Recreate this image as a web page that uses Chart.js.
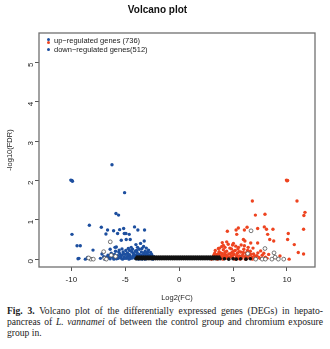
<!DOCTYPE html>
<html>
<head>
<meta charset="utf-8">
<script src="https://cdn.jsdelivr.net/npm/chart.js@4"></script>
<style>
  html, body { margin: 0; padding: 0; background: #fff; }
  #wrap { position: relative; width: 330px; height: 349px; overflow: hidden; }
  #plot { position: absolute; left: 0; top: 0; width: 330px; height: 305px; }
  #legend { position: absolute; left: 46px; top: 37px; font: 7.5px "Liberation Sans", Arial, sans-serif; color: #222; line-height: 8.5px; }
  #legend .row { position: relative; padding-left: 8px; white-space: nowrap; }
  #legend .dot { position: absolute; left: 1px; width: 3.4px; height: 3.4px; border-radius: 50%; }
  #caption { position: absolute; left: 7px; top: 305px; width: 316px; font: 9.6px "Liberation Serif", "DejaVu Serif", serif; line-height: 11px; color: #222; text-align: justify; }
  #caption b { font-weight: bold; }
</style>
</head>
<body>
<div id="wrap">
  <div id="plot"><canvas id="volcanoChart"></canvas></div>
  <div id="legend">
    <div class="row"><span class="dot" style="top:0.5px;background:#1d4f9f"></span><span class="dot" style="top:3.5px;background:#ee4420"></span>up−regulated genes (736)</div>
    <div class="row"><span class="dot" style="top:2.5px;background:#1d4f9f"></span>down−regulated genes(512)</div>
  </div>
  <div id="caption"><b>Fig. 3.</b> Volcano plot of the differentially expressed genes (DEGs) in hepato-pancreas of <i>L. vannamei</i> of between the control group and chromium exposure group in.</div>
</div>
<script>
// tick labels
const xTicks = [-10, -5, 0, 5, 10];
const yTicks = [0, 1, 2, 3, 4, 5];

// down-regulated genes (log2FC, -log10 FDR)
const downGenes = [
  [-9.95, 2.0], [-10.05, 2.01], [-9.9, 1.98], [-6.23, 2.40], [-5.06, 1.69],
  [-5.86, 1.16], [-5.62, 1.12], [-8.33, 0.86], [-9.94, 0.63], [-7.22, 0.81],
  [-6.64, 0.74], [-6.79, 0.64], [-6.08, 0.72], [-5.71, 0.65], [-5.52, 0.75],
  [-5.15, 0.78], [-5.09, 0.65], [-4.94, 0.65], [-4.63, 0.63], [-4.14, 0.82],
  [-3.83, 0.74], [-3.21, 0.74], [-5.37, 0.48], [-4.91, 0.50], [-4.54, 0.50],
  [-4.01, 0.37], [-3.58, 0.40], [-3.24, 0.46], [-9.47, 0.34], [-9.17, 0.34],
  [-7.99, 0.23], [-7.16, 0.13], [-9.38, 0.01], [-9.3, 0.02], [-8.70, 0.0],
  [-8.49, 0.04], [-5.83, 0.31], [-5.56, 0.23], [-4.72, 0.27], [-4.32, 0.25],
  [-3.86, 0.30], [-3.45, 0.27], [-2.84, 0.23],
  [-6.8, 0.05], [-6.6, 0.1], [-6.5, 0.02], [-6.3, 0.15], [-6.1, 0.04],
  [-6.0, 0.12], [-5.9, 0.2], [-5.8, 0.01], [-5.7, 0.09], [-5.5, 0.14],
  [-5.4, 0.03], [-5.3, 0.1], [-5.2, 0.18], [-5.1, 0.05], [-5.0, 0.12],
  [-4.9, 0.02], [-4.8, 0.16], [-4.7, 0.07], [-4.6, 0.11], [-4.5, 0.02],
  [-4.4, 0.19], [-4.3, 0.08], [-4.2, 0.13], [-4.1, 0.03], [-4.0, 0.1],
  [-3.9, 0.17], [-3.8, 0.05], [-3.7, 0.12], [-3.6, 0.02], [-3.5, 0.18],
  [-3.4, 0.08], [-3.3, 0.13], [-3.2, 0.04], [-3.1, 0.1], [-3.0, 0.15],
  [-2.9, 0.06], [-2.8, 0.1], [-2.7, 0.03], [-2.6, 0.08], [-6.4, 0.25],
  [-5.95, 0.3], [-5.3, 0.26], [-4.95, 0.22], [-4.45, 0.3], [-3.95, 0.22],
  [-3.3, 0.32], [-3.05, 0.28], [-2.65, 0.17], [-2.5, 0.05], [-7.3, 0.02],
  [-7.0, 0.06],
  [-6.9, 0.0], [-6.7, 0.03], [-6.55, 0.07], [-6.4, 0.01], [-6.2, 0.06],
  [-6.05, 0.0], [-5.85, 0.05], [-5.65, 0.02], [-5.45, 0.07], [-5.25, 0.0],
  [-5.15, 0.14], [-5.05, 0.02], [-4.85, 0.06], [-4.75, 0.12], [-4.65, 0.0],
  [-4.55, 0.06], [-4.35, 0.03], [-4.25, 0.15], [-4.15, 0.08], [-3.95, 0.01],
  [-3.85, 0.09], [-3.75, 0.0], [-3.65, 0.07], [-3.55, 0.1], [-3.45, 0.0],
  [-3.35, 0.05], [-3.25, 0.16], [-3.15, 0.0], [-3.05, 0.06], [-2.95, 0.12],
  [-2.85, 0.02], [-2.75, 0.07], [-2.55, 0.12], [-2.45, 0.0], [-2.35, 0.06],
  [-2.2, 0.02], [-4.05, 0.2], [-4.6, 0.22], [-5.6, 0.18], [-3.7, 0.25],
  [-3.15, 0.2], [-2.9, 0.18]
];

// up-regulated genes
const upGenes = [
  [10.06, 2.0], [10.0, 1.99], [9.95, 2.01], [6.79, 1.48], [10.93, 1.48],
  [7.07, 1.12], [7.96, 1.14], [11.67, 1.19], [11.57, 1.11], [4.47, 0.71],
  [5.28, 0.74], [5.49, 0.79], [5.34, 0.63], [6.05, 0.74], [6.30, 0.81],
  [7.28, 0.78], [7.90, 0.82], [8.1, 0.76], [8.70, 0.76], [8.21, 0.63],
  [10.12, 0.65], [11.54, 0.76], [10.06, 0.50], [8.40, 0.50], [8.77, 0.46],
  [5.96, 0.50], [6.1, 0.46], [6.64, 0.41], [7.28, 0.41], [10.68, 0.37],
  [11.05, 0.17], [11.54, 0.13], [4.41, 0.44], [5.03, 0.40], [4.1, 0.35],
  [3.64, 0.27], [7.56, 0.21], [9.35, 0.08], [10.2, 0.0],
  [3.1, 0.03], [3.2, 0.08], [3.3, 0.15], [3.4, 0.02], [3.5, 0.11],
  [3.6, 0.05], [3.7, 0.19], [3.8, 0.09], [3.9, 0.02], [4.0, 0.14],
  [4.1, 0.24], [4.2, 0.06], [4.3, 0.11], [4.4, 0.2], [4.5, 0.02],
  [4.6, 0.13], [4.7, 0.28], [4.8, 0.07], [4.9, 0.17], [5.0, 0.03],
  [5.1, 0.12], [5.2, 0.22], [5.3, 0.05], [5.4, 0.15], [5.5, 0.3],
  [5.6, 0.08], [5.7, 0.18], [5.8, 0.02], [5.9, 0.12], [6.0, 0.25],
  [6.1, 0.06], [6.2, 0.16], [6.3, 0.03], [6.45, 0.1], [6.6, 0.2],
  [6.75, 0.05], [6.9, 0.13], [7.05, 0.02], [7.2, 0.09], [7.4, 0.04],
  [7.7, 0.1], [8.0, 0.05], [8.3, 0.12], [8.9, 0.04], [3.95, 0.32],
  [4.55, 0.38], [5.25, 0.33], [5.75, 0.36], [6.4, 0.3], [3.35, 0.22],
  [4.85, 0.26], [6.85, 0.28],
  [3.0, 0.0], [3.15, 0.05], [3.25, 0.12], [3.45, 0.07], [3.55, 0.0],
  [3.65, 0.14], [3.75, 0.04], [3.85, 0.16], [3.95, 0.06], [4.05, 0.0],
  [4.15, 0.1], [4.25, 0.17], [4.35, 0.03], [4.45, 0.08], [4.65, 0.04],
  [4.75, 0.14], [4.95, 0.09], [5.05, 0.2], [5.15, 0.0], [5.35, 0.09],
  [5.45, 0.02], [5.55, 0.19], [5.65, 0.0], [5.85, 0.07], [5.95, 0.17],
  [6.15, 0.0], [6.25, 0.1], [6.35, 0.22], [6.55, 0.03], [6.65, 0.12],
  [6.8, 0.0], [7.0, 0.08], [7.3, 0.16], [7.5, 0.02], [7.85, 0.15],
  [8.15, 0.02], [3.75, 0.28], [4.25, 0.3], [4.95, 0.36], [5.45, 0.26],
  [6.05, 0.34], [4.0, 0.42]
];

// large fold change but not significant (open circles)
const openGenes = [
  [-6.39, 0.44], [-7.0, 0.19], [-8.2, 0.0], [-7.96, 0.0], [-6.9, 0.02],
  [-6.75, 0.0], [-6.3, 0.1], [-5.9, 0.07], [-8.4, 0.03],
  [6.67, 0.72], [7.96, 0.27], [8.80, 0.16], [6.36, 0.14], [9.2, 0.0],
  [9.7, 0.0], [7.1, 0.0], [7.7, 0.0], [8.0, 0.0], [8.6, 0.0], [8.9, 0.05]
];

// not differentially expressed
const otherGenes = [
  [-4.0, 0.01], [-3.9, 0.05], [-3.8, 0.01], [-3.7, 0.05], [-3.6, 0.01],
  [-3.5, 0.05], [-3.4, 0.01], [-3.3, 0.05], [-3.2, 0.01], [-3.1, 0.05],
  [-3.0, 0.01], [-2.9, 0.05], [-2.8, 0.01], [-2.7, 0.05], [-2.6, 0.01],
  [-2.5, 0.05], [-2.4, 0.01], [-2.3, 0.05], [-2.2, 0.01], [-2.1, 0.05],
  [-2.0, 0.01], [-1.9, 0.05], [-1.8, 0.01], [-1.7, 0.05], [-1.6, 0.01],
  [-1.5, 0.05], [-1.4, 0.01], [-1.3, 0.05], [-1.2, 0.01], [-1.1, 0.05],
  [-1.0, 0.01], [-0.9, 0.05], [-0.8, 0.01], [-0.7, 0.05], [-0.6, 0.01],
  [-0.5, 0.05], [-0.4, 0.01], [-0.3, 0.05], [-0.2, 0.01], [-0.1, 0.05],
  [0.0, 0.01], [0.1, 0.05], [0.2, 0.01], [0.3, 0.05], [0.4, 0.01],
  [0.5, 0.05], [0.6, 0.01], [0.7, 0.05], [0.8, 0.01], [0.9, 0.05],
  [1.0, 0.01], [1.1, 0.05], [1.2, 0.01], [1.3, 0.05], [1.4, 0.01],
  [1.5, 0.05], [1.6, 0.01], [1.7, 0.05], [1.8, 0.01], [1.9, 0.05],
  [2.0, 0.01], [2.1, 0.05], [2.2, 0.01], [2.3, 0.05], [2.4, 0.01],
  [2.5, 0.05], [2.6, 0.01], [2.7, 0.05], [2.8, 0.01], [2.9, 0.05],
  [3.0, 0.01], [3.1, 0.05], [3.2, 0.01], [3.3, 0.05], [3.4, 0.01],
  [3.5, 0.05], [3.6, 0.01], [3.7, 0.05], [3.8, 0.01],
  [4.2, 0.01], [4.6, 0.0], [5.0, 0.01], [5.3, 0.0], [5.7, 0.01], [6.2, 0.0], [6.6, 0.01]
];

const toPts = arr => arr.map(p => ({ x: p[0], y: p[1] }));

const boxPlugin = {
  id: "plotBox",
  afterDraw(chart) {
    const { ctx, chartArea: a } = chart;
    ctx.save();
    ctx.strokeStyle = "#707070";
    ctx.lineWidth = 1.3;
    ctx.strokeRect(a.left, a.top, a.right - a.left, a.bottom - a.top);
    ctx.restore();
  }
};

const font = { family: "'Liberation Sans', Arial, sans-serif" };

new Chart(document.getElementById("volcanoChart"), {
  type: "scatter",
  data: {
    datasets: [
      {
        label: "other",
        data: toPts(otherGenes),
        backgroundColor: "#111",
        borderWidth: 0,
        pointRadius: 1.8,
        order: 1
      },
      {
        label: "not significant",
        data: toPts(openGenes),
        backgroundColor: "#fff",
        borderColor: "#555",
        borderWidth: 0.8,
        pointRadius: 1.9,
        order: 2
      },
      {
        label: "up-regulated genes (736)",
        data: toPts(upGenes),
        backgroundColor: "#ee4420",
        borderWidth: 0,
        pointRadius: 1.7,
        order: 3
      },
      {
        label: "down-regulated genes(512)",
        data: toPts(downGenes),
        backgroundColor: "#1d4f9f",
        borderWidth: 0,
        pointRadius: 1.7,
        order: 4
      }
    ]
  },
  options: {
    responsive: true,
    maintainAspectRatio: false,
    animation: false,
    layout: { padding: { left: 0, right: 15, top: 0, bottom: 0 } },
    plugins: {
      legend: { display: false },
      tooltip: { enabled: false },
      title: {
        display: true,
        text: "Volcano plot",
        color: "#111",
        font: { ...font, size: 10, weight: "bold" },
        padding: { top: 4, bottom: 17 }
      }
    },
    scales: {
      x: {
        type: "linear",
        min: -13,
        max: 12.6,
        afterBuildTicks: s => { s.ticks = xTicks.map(v => ({ value: v })); },
        afterFit: s => { s.height = 38; },
        border: { display: false },
        grid: { drawOnChartArea: false, drawTicks: true, tickLength: 4, color: "#555" },
        ticks: { color: "#222", font: { ...font, size: 8 }, padding: 4, maxRotation: 0 },
        title: { display: true, text: "Log2(FC)", color: "#222", font: { ...font, size: 7.5 }, padding: { top: 0, bottom: 3 } }
      },
      y: {
        type: "linear",
        min: -0.2,
        max: 5.75,
        afterBuildTicks: s => { s.ticks = yTicks.map(v => ({ value: v })); },
        afterFit: s => { s.width = 39; },
        border: { display: false },
        grid: { drawOnChartArea: false, drawTicks: true, tickLength: 4, color: "#555" },
        ticks: { color: "#222", font: { ...font, size: 8 }, padding: 4, minRotation: 90, maxRotation: 90 },
        title: { display: true, text: "-log10(FDR)", color: "#222", font: { ...font, size: 7.5 }, padding: { top: 5, bottom: 0 } }
      }
    }
  },
  plugins: [boxPlugin]
});
</script>
</body>
</html>
